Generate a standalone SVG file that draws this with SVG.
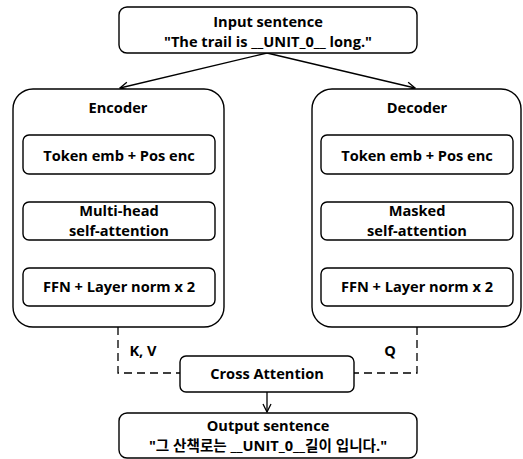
<svg xmlns="http://www.w3.org/2000/svg" width="523" height="459" viewBox="0 0 523 459">
<defs>
<style>
.box{fill:#fff;stroke:#000;stroke-width:1.4}
.t{font-family:"Open Sans","Noto Sans CJK KR",sans-serif;font-weight:bold;font-size:14.6px;text-anchor:middle;fill:#000}
.ln{fill:none;stroke:#000;stroke-width:1.3}
.dash{fill:none;stroke:#000;stroke-width:1.3;stroke-dasharray:8 5}
</style>
<marker id="ah" viewBox="0 0 10 10" refX="9" refY="5" markerWidth="10" markerHeight="10" markerUnits="userSpaceOnUse" orient="auto">
<path d="M1,1 L9,5 L1,9" fill="none" stroke="#000" stroke-width="1.3"/>
</marker>
</defs>
<rect width="523" height="459" fill="#fff"/>
<g id="connectors">
<line class="ln" x1="267" y1="53" x2="120" y2="88" marker-end="url(#ah)"/>
<line class="ln" x1="267" y1="53" x2="415" y2="88" marker-end="url(#ah)"/>
<polyline class="dash" points="118,327 118,373 180,373"/>
<polyline class="dash" points="417,327 417,373 354,373"/>
<line class="ln" x1="267" y1="392" x2="267" y2="412" marker-end="url(#ah)"/>
<text class="t" x="143" y="356">K, V</text>
<text class="t" x="390" y="356">Q</text>
</g>
<g id="input">
<rect class="box" x="119" y="7" width="298" height="46" rx="8"/>
<text class="t" x="268" y="27">Input sentence</text>
<text class="t" x="268" y="47">"The trail is __UNIT_0__ long."</text>
</g>
<g id="encoder">
<rect class="box" x="13" y="89" width="211" height="238" rx="20"/>
<text class="t" x="118" y="113">Encoder</text>
</g>
<g id="enc-emb">
<rect class="box" x="23" y="135" width="192" height="39" rx="6"/>
<text class="t" x="119" y="161">Token emb + Pos enc</text>
</g>
<g id="enc-attn">
<rect class="box" x="23" y="202" width="192" height="38" rx="6"/>
<text class="t" x="119" y="216">Multi-head</text>
<text class="t" x="119" y="236">self-attention</text>
</g>
<g id="enc-ffn">
<rect class="box" x="23" y="268" width="192" height="38" rx="6"/>
<text class="t" x="119" y="292">FFN + Layer norm x 2</text>
</g>
<g id="decoder">
<rect class="box" x="312" y="89" width="209" height="238" rx="20"/>
<text class="t" x="417" y="113">Decoder</text>
</g>
<g id="dec-emb">
<rect class="box" x="321" y="135" width="192" height="39" rx="6"/>
<text class="t" x="417" y="161">Token emb + Pos enc</text>
</g>
<g id="dec-attn">
<rect class="box" x="321" y="202" width="192" height="38" rx="6"/>
<text class="t" x="417" y="216">Masked</text>
<text class="t" x="417" y="236">self-attention</text>
</g>
<g id="dec-ffn">
<rect class="box" x="321" y="268" width="192" height="38" rx="6"/>
<text class="t" x="417" y="292">FFN + Layer norm x 2</text>
</g>
<g id="cross">
<rect class="box" x="180" y="356" width="174" height="36" rx="6"/>
<text class="t" x="267" y="379">Cross Attention</text>
</g>
<g id="output">
<rect class="box" x="119" y="413" width="298" height="45" rx="8"/>
<text class="t" x="268" y="431">Output sentence</text>
<text class="t" x="268" y="451">"그 산책로는 __UNIT_0__길이 입니다."</text>
</g>
</svg>
